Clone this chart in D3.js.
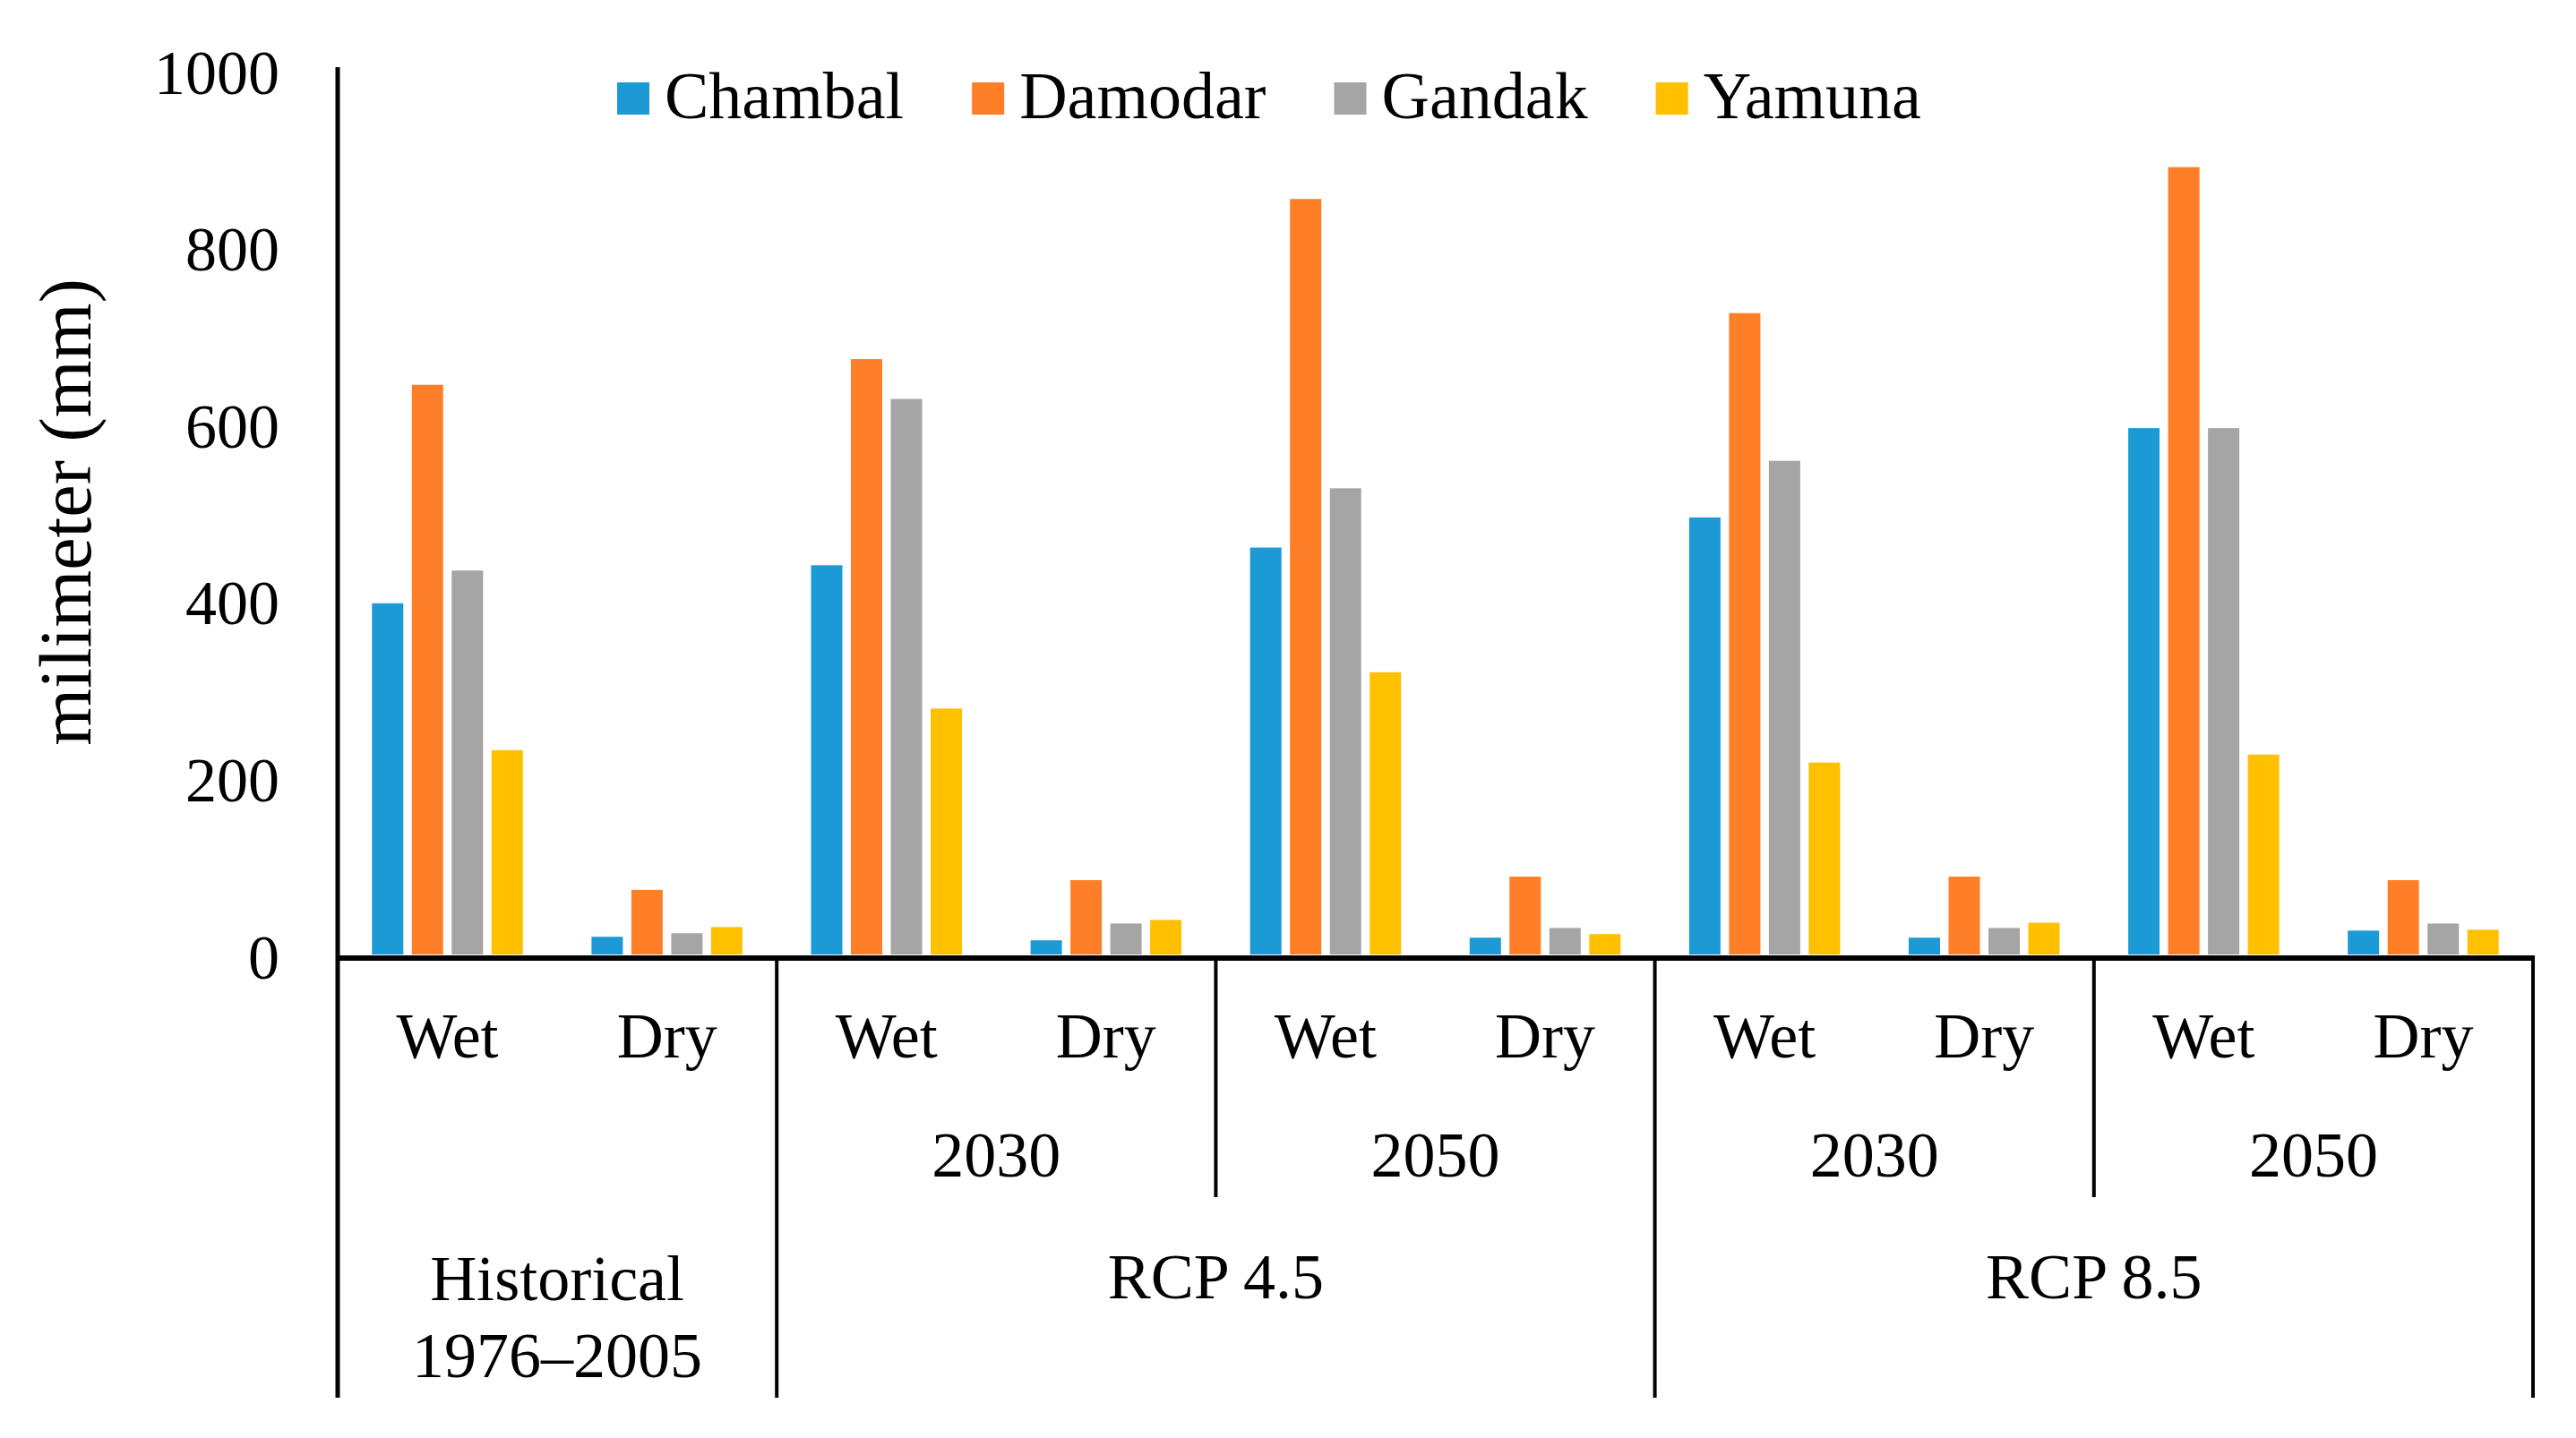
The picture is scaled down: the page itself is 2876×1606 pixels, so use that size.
<!DOCTYPE html>
<html>
<head>
<meta charset="utf-8">
<script src="https://cdn.jsdelivr.net/npm/d3@7/dist/d3.min.js"></script>
<style>
  html, body { margin: 0; padding: 0; background: #ffffff; }
  svg { display: block; }
  text { font-family: "Liberation Serif", "Times New Roman", serif; fill: #000; }
</style>
</head>
<body>
<svg id="chart" width="2876" height="1606"></svg>
<script>
// ---- data ----
const seasons = ["Wet", "Dry", "Wet", "Dry", "Wet", "Dry", "Wet", "Dry", "Wet", "Dry"];
const years = ["", "2030", "2050", "2030", "2050"];
const scenarios = [["Historical", "1976\u20132005"], ["RCP 4.5"], ["RCP 8.5"]];
const seriesNames = ["Chambal", "Damodar", "Gandak", "Yamuna"];
const chambal = [397, 20, 440, 16, 460, 19, 494, 19, 595, 27];
const damodar = [644, 73, 673, 84, 854, 88, 725, 88, 890, 84];
const gandak  = [434, 24, 628, 35, 527, 30, 558, 30, 595, 35];
const yamuna  = [231, 31, 278, 39, 319, 23, 217, 36, 226, 28];
const yTicks = [0, 200, 400, 600, 800, 1000];
const colors = ["#1b9ad6", "#fe7f27", "#a5a5a5", "#ffc000"];
const yTitle = "milimeter (mm)";

const seriesValues = [chambal, damodar, gandak, yamuna];

// ---- layout ----
const svg = d3.select("#chart");
const plotLeft = 377, plotRight = 2828, plotTop = 78, zeroY = 1066;
const axisY = 1070, bottomFull = 1561, bottomShort = 1337;

const x0 = d3.scaleBand().domain(d3.range(seasons.length)).range([plotLeft, plotRight]).padding(0);
const cw = x0.bandwidth();
const x1 = d3.scaleBand().domain(seriesNames).range([-cw * 0.3438, cw * 0.3438]).paddingInner(0.2135).paddingOuter(0);
const y = d3.scaleLinear().domain([0, 1000]).range([zeroY, plotTop]);

// bars
const barData = [];
seriesNames.forEach((s, si) => {
  seriesValues[si].forEach((v, ci) => barData.push({ s, si, ci, v }));
});
svg.append("g").selectAll("rect").data(barData).join("rect")
  .attr("x", d => x0(d.ci) + cw / 2 + x1(d.s))
  .attr("width", x1.bandwidth())
  .attr("y", d => y(d.v))
  .attr("height", d => y(0) - y(d.v))
  .attr("fill", d => colors[d.si]);

// y tick labels
svg.append("g").selectAll("text").data(yTicks).join("text")
  .attr("x", 312)
  .attr("y", d => y(d) + 3)
  .attr("text-anchor", "end")
  .attr("dominant-baseline", "central")
  .attr("font-size", 70)
  .text(d => d);

// y title
svg.append("text")
  .attr("transform", `translate(101,${572}) rotate(-90)`)
  .attr("text-anchor", "middle")
  .attr("font-size", 82)
  .text(yTitle);

// axis lines
const lines = svg.append("g").attr("stroke", "#000").attr("fill", "none");
lines.append("line").attr("x1", plotLeft).attr("x2", plotLeft).attr("y1", 75).attr("y2", bottomFull).attr("stroke-width", 5);
lines.append("line").attr("x1", plotLeft - 2).attr("x2", plotRight + 2).attr("y1", axisY).attr("y2", axisY).attr("stroke-width", 6);

// separators
const fullSeps = [2, 6, 10];
const shortSeps = [4, 8];
fullSeps.forEach(i => {
  const xx = i < seasons.length ? x0(i) : plotRight;
  lines.append("line").attr("x1", xx).attr("x2", xx).attr("y1", axisY).attr("y2", bottomFull).attr("stroke-width", 4);
});
shortSeps.forEach(i => {
  const xx = x0(i);
  lines.append("line").attr("x1", xx).attr("x2", xx).attr("y1", axisY).attr("y2", bottomShort).attr("stroke-width", 4);
});

// season labels
svg.append("g").selectAll("text").data(seasons).join("text")
  .attr("x", (d, i) => x0(i) + cw / 2)
  .attr("y", 1181)
  .attr("text-anchor", "middle")
  .attr("font-size", 72)
  .text(d => d);

// year labels
svg.append("g").selectAll("text").data(years).join("text")
  .attr("x", (d, i) => x0(i * 2) + cw)
  .attr("y", 1314)
  .attr("text-anchor", "middle")
  .attr("font-size", 72)
  .text(d => d);

// scenario labels
const scenarioSpans = [[0, 2], [2, 6], [6, 10]];
scenarios.forEach((lab, i) => {
  const [a, b] = scenarioSpans[i];
  const cx = (x0(a) + (b < seasons.length ? x0(b) : plotRight)) / 2;
  const t = svg.append("text").attr("text-anchor", "middle").attr("font-size", 72);
  if (lab.length === 2) {
    t.append("tspan").attr("x", cx).attr("y", 1452).text(lab[0]);
    t.append("tspan").attr("x", cx).attr("y", 1538).text(lab[1]);
  } else {
    t.append("tspan").attr("x", cx).attr("y", 1450).text(lab[0]);
  }
});

// legend
const legend = svg.append("g");
let lx = 689;
seriesNames.forEach((s, i) => {
  legend.append("rect").attr("x", lx).attr("y", 92).attr("width", 36).attr("height", 36).attr("fill", colors[i]);
  const t = legend.append("text").attr("x", lx + 53).attr("y", 132).attr("font-size", 74).text(s);
  lx = lx + 53 + t.node().getComputedTextLength() + 76;
});
</script>
</body>
</html>
